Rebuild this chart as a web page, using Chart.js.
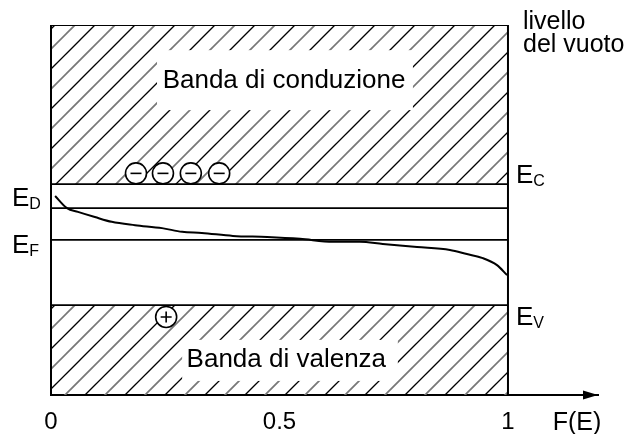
<!DOCTYPE html>
<html>
<head>
<meta charset="utf-8">
<script src="https://cdn.jsdelivr.net/npm/chart.js@4.4.0/dist/chart.umd.min.js"></script>
<style>
  html, body { margin: 0; padding: 0; background: #fff; }
  #wrap { width: 631px; height: 434px; }
</style>
</head>
<body>
<div id="wrap"><canvas id="bandChart" width="631" height="434"></canvas></div>
<script>
// asse F(E)
const xTicks = [0, 0.5, 1];
const xTickLabels = ['0', '0.5', '1'];
const xTitle = 'F(E)';

// livelli di energia (unità arbitrarie: 0 = fondo, 10 = livello del vuoto)
const levelKeys = ['C', 'D', 'F', 'V'];
const levelEnergy = [5.70, 5.05, 4.19, 2.43];
const yTop = 10;
const yBottom = 0;

// curva
const curveF = [0.009, 0.035, 0.059, 0.096, 0.133, 0.184, 0.243, 0.287, 0.330, 0.398, 0.473,
                0.545, 0.617, 0.676, 0.726, 0.801, 0.873, 0.910, 0.945, 0.976, 0.998];
const curveE = [5.38, 5.05, 4.95, 4.81, 4.68, 4.59, 4.51, 4.41, 4.38, 4.30, 4.27,
                4.22, 4.14, 4.14, 4.08, 4.00, 3.92, 3.81, 3.70, 3.51, 3.24];

// elettroni in banda di conduzione, lacuna in banda di valenza
const electronF = [0.186, 0.245, 0.306, 0.368];
const electronE = [5.99, 5.99, 5.99, 5.99];
const holeF = [0.252];
const holeE = [2.11];

const bandNames = ['Banda di conduzione', 'Banda di valenza'];
const vacuumLabel = ['livello', 'del vuoto'];

const FONT = "'Liberation Sans', Arial, Helvetica, sans-serif";
const pts = (xs, ys) => xs.map((v, i) => ({ x: v, y: ys[i] }));
const level = k => levelEnergy[levelKeys.indexOf(k)];

function hatchPattern() {
    const c = document.createElement('canvas');
    c.width = 40; c.height = 40;
    const g = c.getContext('2d');
    for (let k = 0; k <= 4; k++) {
        const s = k * 20;
        g.strokeStyle = k % 2 ? '#777' : '#000';
        g.lineWidth = k % 2 ? 1.7 : 1.3;
        g.beginPath();
        g.moveTo(s + 5, -5);
        g.lineTo(-5, s + 5);
        g.stroke();
    }
    return g.createPattern(c, 'repeat');
}

// scritte, riquadri e cornice
const annotate = {
    id: 'annotate',
    afterDatasetsDraw(chart) {
        const { ctx, scales: { x, y } } = chart;
        const x0 = x.getPixelForValue(0), x1 = x.getPixelForValue(1);
        const yT = y.getPixelForValue(yTop), yB = y.getPixelForValue(yBottom);
        ctx.save();

        // riquadri bianchi dietro i nomi delle bande
        ctx.fillStyle = '#fff';
        const box = (fa, fb, ea, eb) => {
            const l = x.getPixelForValue(fa), r = x.getPixelForValue(fb);
            const t = y.getPixelForValue(ea), b = y.getPixelForValue(eb);
            ctx.fillRect(l, t, r - l, b - t);
        };
        box(0.232, 0.792, 9.32, 7.70);
        box(0.287, 0.759, 1.49, 0.38);

        ctx.fillStyle = '#000';
        ctx.textAlign = 'center';
        ctx.textBaseline = 'alphabetic';
        ctx.font = '26px ' + FONT;
        ctx.fillText(bandNames[0], x.getPixelForValue(0.51), y.getPixelForValue(8.30));
        ctx.fillText(bandNames[1], x.getPixelForValue(0.515), y.getPixelForValue(0.757));

        // cornice
        ctx.strokeStyle = '#000';
        ctx.lineWidth = 2;
        ctx.beginPath();
        ctx.moveTo(x0, yB); ctx.lineTo(x0, yT);
        ctx.moveTo(x1, yT); ctx.lineTo(x1, yB);
        ctx.stroke();

        // freccia asse x
        const tip = x.right;
        ctx.beginPath();
        ctx.moveTo(tip, yB);
        ctx.lineTo(tip - 15, yB - 4.5);
        ctx.lineTo(tip - 15, yB + 4.5);
        ctx.closePath();
        ctx.fill();

        // etichette dei livelli
        const sub = (key, left, off) => {
            const base = y.getPixelForValue(level(key)) + off;
            ctx.textAlign = 'left';
            ctx.font = '26px ' + FONT;
            ctx.fillText('E', left, base);
            const w = ctx.measureText('E').width;
            ctx.font = '16px ' + FONT;
            ctx.fillText(key, left + w, base + 3);
        };
        sub('D', 12, -2);
        sub('F', 12, 13);
        sub('C', x1 + 8, -1);
        sub('V', x1 + 8, 20);

        ctx.font = '25px ' + FONT;
        ctx.textAlign = 'left';
        ctx.fillText(vacuumLabel[0], x1 + 15, 29);
        ctx.fillText(vacuumLabel[1], x1 + 15, 52);

        ctx.textAlign = 'center';
        ctx.font = '25px ' + FONT;
        ctx.fillText(xTitle, x.getPixelForValue(1.151), yB + 35);
        ctx.restore();
    }
};

const hatch = hatchPattern();
const flat = e => [{ x: 0, y: e }, { x: 1, y: e }];

new Chart(document.getElementById('bandChart'), {
    type: 'line',
    data: {
        datasets: [
            { data: pts(electronF, electronE), showLine: false, pointStyle: 'line', pointRadius: 5.5,
              borderColor: '#000', borderWidth: 1.6, order: -2 },
            { data: pts(holeF, holeE), showLine: false, pointStyle: 'cross', pointRadius: 5.5,
              borderColor: '#000', borderWidth: 1.6, order: -2 },
            { data: pts(electronF.concat(holeF), electronE.concat(holeE)), showLine: false,
              pointStyle: 'circle', pointRadius: [10.5, 10.5, 10.5, 10.5, 10.5], pointBackgroundColor: '#fff',
              borderColor: '#000', borderWidth: 1.6, order: -1 },
            { data: pts(curveF, curveE), borderColor: '#000', borderWidth: 2, pointRadius: 0,
              cubicInterpolationMode: 'monotone', order: 0 },
            { data: flat(level('D')), borderColor: '#000', borderWidth: 1.7, pointRadius: 0, order: 1 },
            { data: flat(level('F')), borderColor: '#000', borderWidth: 1.7, pointRadius: 0, order: 1 },
            { data: flat(yTop), borderColor: '#000', borderWidth: 2, pointRadius: 0,
              fill: { value: level('C') }, backgroundColor: hatch, order: 5 },
            { data: flat(level('C')), borderColor: '#000', borderWidth: 1.7, pointRadius: 0, order: 1 },
            { data: flat(level('V')), borderColor: '#000', borderWidth: 1.7, pointRadius: 0,
              fill: { value: yBottom }, backgroundColor: hatch, order: 5 }
        ]
    },
    options: {
        responsive: false,
        animation: false,
        events: [],
        layout: { padding: { left: 51, top: 25, right: 33, bottom: 0 } },
        plugins: { legend: { display: false }, tooltip: { enabled: false } },
        scales: {
            x: {
                type: 'linear', min: 0, max: 1.197,
                afterBuildTicks: s => { s.ticks = xTicks.map(v => ({ value: v })); },
                afterFit: s => { s.height = 39; },
                grid: { display: false, drawTicks: false },
                border: { display: true, color: '#000', width: 2 },
                ticks: {
                    color: '#000', padding: 13, maxRotation: 0, autoSkip: false,
                    font: { size: 24, family: FONT },
                    callback: (v, i) => xTickLabels[i]
                }
            },
            y: { type: 'linear', min: yBottom, max: yTop, display: false }
        }
    },
    plugins: [annotate]
});
</script>
</body>
</html>
